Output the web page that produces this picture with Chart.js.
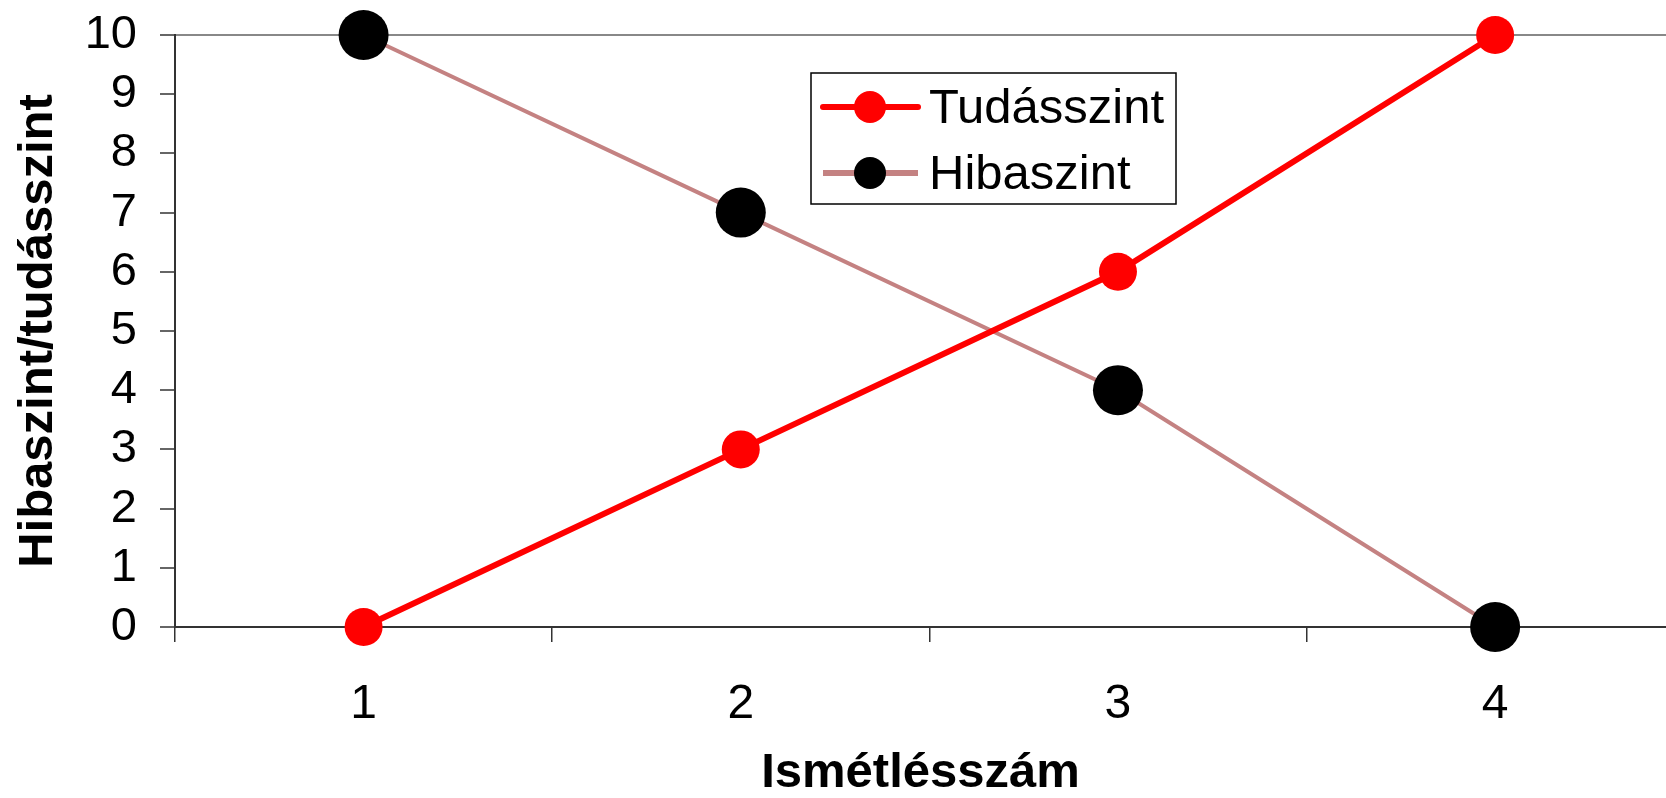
<!DOCTYPE html>
<html lang="hu">
<head>
  <meta charset="UTF-8">
  <title>Hibaszint / tudásszint</title>
  <script src="https://cdn.jsdelivr.net/npm/chart.js"></script>
  <style>
    html, body { margin: 0; padding: 0; background: #fff; overflow: hidden; }
    #wrap { width: 1666px; height: 798px; position: relative; }
  </style>
</head>
<body>
  <div id="wrap"><canvas id="chart"></canvas></div>
  <script>
    // adatok
    const ismetles = [1, 2, 3, 4];
    const tudasszint = [0, 3, 6, 10];
    const hibaszint = [10, 7, 4, 0];
    const yTicks = [0, 1, 2, 3, 4, 5, 6, 7, 8, 9, 10];

    const FONT = "'Liberation Sans', Arial, sans-serif";

    // legend inside the plot, drawn by hand (chart.js legend can't float there)
    const boxLegend = {
      id: 'boxLegend',
      afterDraw(chart) {
        const ctx = chart.ctx;
        const x0 = 811, y0 = 73, w = 365, h = 131;
        ctx.save();
        ctx.fillStyle = '#fff';
        ctx.fillRect(x0, y0, w, h);
        ctx.strokeStyle = '#000';
        ctx.lineWidth = 1.5;
        ctx.strokeRect(x0, y0, w, h);
        chart.data.datasets.forEach((ds, i) => {
          const cy = y0 + 34 + i * 66;
          ctx.strokeStyle = ds.borderColor;
          ctx.lineWidth = 6;
          ctx.lineCap = i === 0 ? 'round' : 'butt';
          ctx.beginPath();
          ctx.moveTo(823, cy);
          ctx.lineTo(918, cy);
          ctx.stroke();
          ctx.fillStyle = ds.pointBackgroundColor;
          ctx.beginPath();
          ctx.arc(870, cy, 16, 0, Math.PI * 2);
          ctx.fill();
          ctx.fillStyle = '#000';
          ctx.font = '49px ' + FONT;
          ctx.textBaseline = 'middle';
          ctx.fillText(ds.label, 929, cy + 2);
        });
        ctx.restore();
      }
    };

    new Chart(document.getElementById('chart'), {
      type: 'line',
      data: {
        datasets: [
          {
            label: 'Tudásszint',
            data: ismetles.map((x, i) => ({ x: x, y: tudasszint[i] })),
            borderColor: '#ff0000',
            borderWidth: 6,
            pointBackgroundColor: '#ff0000',
            pointBorderWidth: 0,
            pointRadius: 19,
            pointHoverRadius: 19,
            clip: false,
            order: 0
          },
          {
            label: 'Hibaszint',
            data: ismetles.map((x, i) => ({ x: x, y: hibaszint[i] })),
            borderColor: '#c48282',
            borderWidth: 4,
            pointBackgroundColor: '#000000',
            pointBorderWidth: 0,
            pointRadius: 25,
            pointHoverRadius: 25,
            clip: false,
            order: 1
          }
        ]
      },
      options: {
        responsive: true,
        maintainAspectRatio: false,
        animation: false,
        layout: { autoPadding: false, padding: { top: 35, right: 0, left: 0, bottom: 0 } },
        plugins: {
          legend: { display: false },
          tooltip: { enabled: false }
        },
        scales: {
          x: {
            type: 'linear',
            min: 0.5,
            max: 4.453,
            afterBuildTicks: (scale) => { scale.ticks = ismetles.map(v => ({ value: v })); },
            afterFit: (scale) => {
              scale.height = 171;
              scale.paddingLeft = 0;
              scale.paddingRight = 0;
            },
            border: { color: '#333', width: 2 },
            grid: { offset: true, drawOnChartArea: false, tickLength: 15, tickColor: '#333', lineWidth: 1.5 },
            ticks: {
              padding: 34,
              autoSkip: false,
              maxRotation: 0,
              color: '#000',
              font: { family: FONT, size: 48 },
              callback: (v) => String(v)
            },
            title: {
              display: true,
              text: 'Ismétlésszám',
              color: '#000',
              font: { family: FONT, size: 49, weight: 'bold', lineHeight: 1 },
              padding: { top: 0, bottom: 0 }
            }
          },
          y: {
            min: 0,
            max: 10,
            afterBuildTicks: (scale) => { scale.ticks = yTicks.map(v => ({ value: v })); },
            afterFit: (scale) => {
              scale.width = 175;
              scale.paddingTop = 0;
              scale.paddingBottom = 0;
            },
            border: { color: '#333', width: 2 },
            grid: {
              color: (c) => c.tick && c.tick.value === 10 ? '#888' : 'rgba(0,0,0,0)',
              lineWidth: 2,
              tickLength: 15,
              tickColor: '#666'
            },
            ticks: {
              padding: 23,
              autoSkip: false,
              color: '#000',
              font: { family: FONT, size: 47 }
            },
            title: {
              display: true,
              text: 'Hibaszint/tudásszint',
              color: '#000',
              font: { family: FONT, size: 49, weight: 'bold', lineHeight: 1 },
              padding: { top: 14, bottom: 0 }
            }
          }
        }
      },
      plugins: [boxLegend]
    });
  </script>
</body>
</html>
